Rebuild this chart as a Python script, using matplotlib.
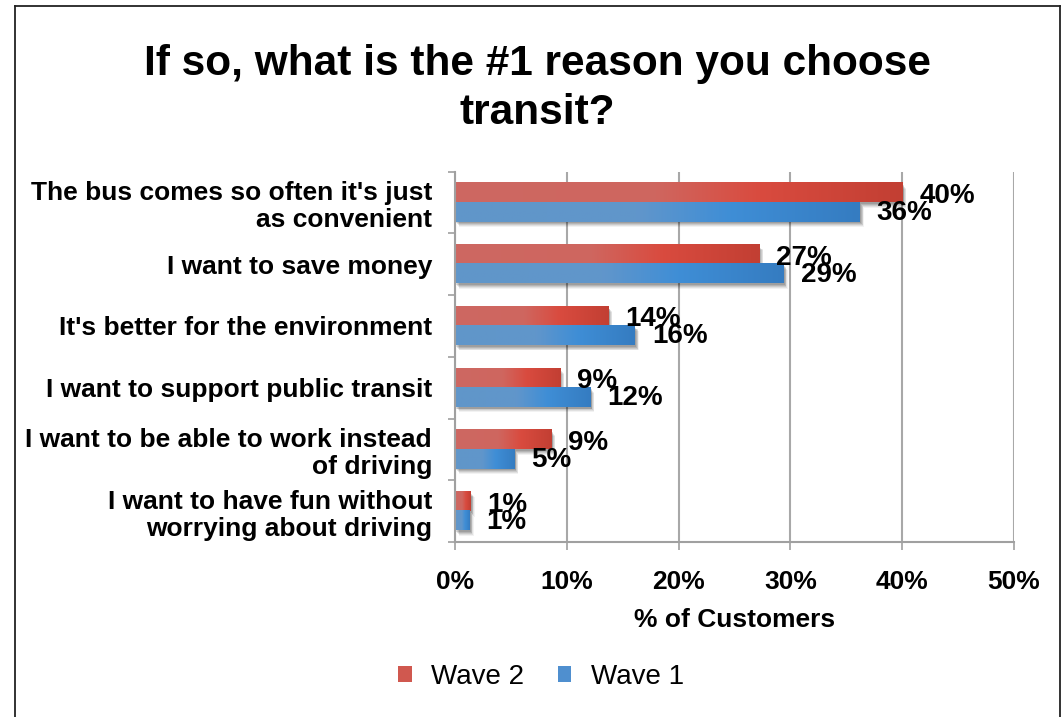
import numpy as np
import matplotlib
matplotlib.use("Agg")
import matplotlib.pyplot as plt
from matplotlib.colors import LinearSegmentedColormap
from matplotlib.patches import Patch, Rectangle
from matplotlib.lines import Line2D
import matplotlib.transforms as mtransforms

# Survey results
categories = [
    "The bus comes so often it's just\nas convenient",
    "I want to save money",
    "It's better for the environment",
    "I want to support public transit",
    "I want to be able to work instead\nof driving",
    "I want to have fun without\nworrying about driving",
]
wave2 = [40.0, 27.2, 13.7, 9.4, 8.6, 1.4]
wave1 = [36.2, 29.4, 16.1, 12.1, 5.3, 1.3]
series_names = ["Wave 2", "Wave 1"]
x_ticks = [0, 10, 20, 30, 40, 50]

plt.rcParams["font.family"] = ["Liberation Sans", "DejaVu Sans"]

W, H = 1063, 717
fig = plt.figure(figsize=(W / 100, H / 100), dpi=100)
fig.patch.set_facecolor("white")

# outer frame
for (x0, y0, x1, y1) in [(15, 0, 15, 711), (15, 711, 1060, 711), (1060, 711, 1060, 0)]:
    fig.add_artist(Line2D([x0 / W, x1 / W], [y0 / H, y1 / H], transform=fig.transFigure,
                          color="#222222", lw=1.3))

ax = fig.add_axes([455 / W, 1 - 542 / H, (1014 - 455) / W, (542 - 171.5) / H])

red_cmap = LinearSegmentedColormap.from_list(
    "red_grad", [(0.0, "#cd6862"), (0.45, "#cf665f"), (0.68, "#d94b3f"), (1.0, "#c23f33")])
blue_cmap = LinearSegmentedColormap.from_list(
    "blue_grad", [(0.0, "#6096c9"), (0.45, "#6196cb"), (0.68, "#3f8ed6"), (1.0, "#357cc1")])

bar_h = 0.31
grad = np.linspace(0, 1, 256).reshape(1, -1)
ys = np.arange(len(categories))


def shadow(x0, x1, y0, y1):
    for k, a in [(6, 0.05), (5, 0.07), (4, 0.09), (3, 0.11), (2, 0.12)]:
        off = mtransforms.ScaledTranslation(k * 0.7 / 100, -k * 0.9 / 100, fig.dpi_scale_trans)
        ax.add_patch(Rectangle((x0, y0), x1 - x0, y1 - y0, facecolor="black", alpha=a,
                               edgecolor="none", transform=ax.transData + off, zorder=1))


for i in ys:
    # wave 2 above the category centre, wave 1 below
    spans = [(wave2[i], i - bar_h, i, red_cmap), (wave1[i], i, i + bar_h, blue_cmap)]
    for v, top, bot, cmap in spans:
        shadow(0, v, top, bot)
    for v, top, bot, cmap in spans:
        ax.imshow(grad, cmap=cmap, aspect="auto", extent=[0, v, bot, top],
                  interpolation="bilinear", zorder=2)

label_kw = dict(fontsize=20, fontweight="bold", color="black", va="center", ha="left",
                textcoords="offset pixels", zorder=5)
for i in ys:
    ax.annotate(f"{wave2[i]:.0f}%", xy=(wave2[i], i - bar_h / 2), xytext=(17, -3), **label_kw)
    ax.annotate(f"{wave1[i]:.0f}%", xy=(wave1[i], i + bar_h / 2), xytext=(17, -1), **label_kw)

ax.set_xlim(0, 50)
ax.set_ylim(len(categories) - 0.5, -0.5)
ax.set_xticks(x_ticks)
ax.set_xticklabels([f"{t}%" for t in x_ticks], fontsize=19, fontweight="bold")
ax.set_yticks(ys)
ax.set_yticklabels(categories, fontsize=19, fontweight="bold", linespacing=1.17)
ax.set_yticks(np.arange(len(categories) + 1) - 0.5, minor=True)
ax.tick_params(axis="y", which="major", length=0, pad=16.5)
ax.tick_params(axis="y", which="minor", length=5, color="#a0a0a0", width=1.2, direction="out")
ax.tick_params(axis="x", length=6, color="#a0a0a0", width=1.2, pad=14)

ax.grid(axis="x", color="#a8a8a8", lw=1.5, zorder=0)
ax.set_axisbelow(True)
for side in ["top", "right"]:
    ax.spines[side].set_visible(False)
for side in ["left", "bottom"]:
    ax.spines[side].set_color("#a0a0a0")
    ax.spines[side].set_linewidth(1.5)

ax.set_xlabel("% of Customers", fontsize=19, fontweight="bold", labelpad=10)

fig.text(0.5 * (15 + 1060) / W, 1 - 88.5 / H, "If so, what is the #1 reason you choose\ntransit?",
         ha="center", va="center", fontsize=30.5, fontweight="bold", linespacing=1.3)

handles = [Patch(facecolor="#d0584f", edgecolor="none"), Patch(facecolor="#4f8fcf", edgecolor="none")]
fig.legend(handles, series_names, loc="center", bbox_to_anchor=(541 / W, 1 - 677 / H), ncol=2,
           frameon=False, fontsize=20, handlelength=0.5, handleheight=0.5, handletextpad=0.7,
           columnspacing=1.2)

fig.savefig("out.png", dpi=100)
